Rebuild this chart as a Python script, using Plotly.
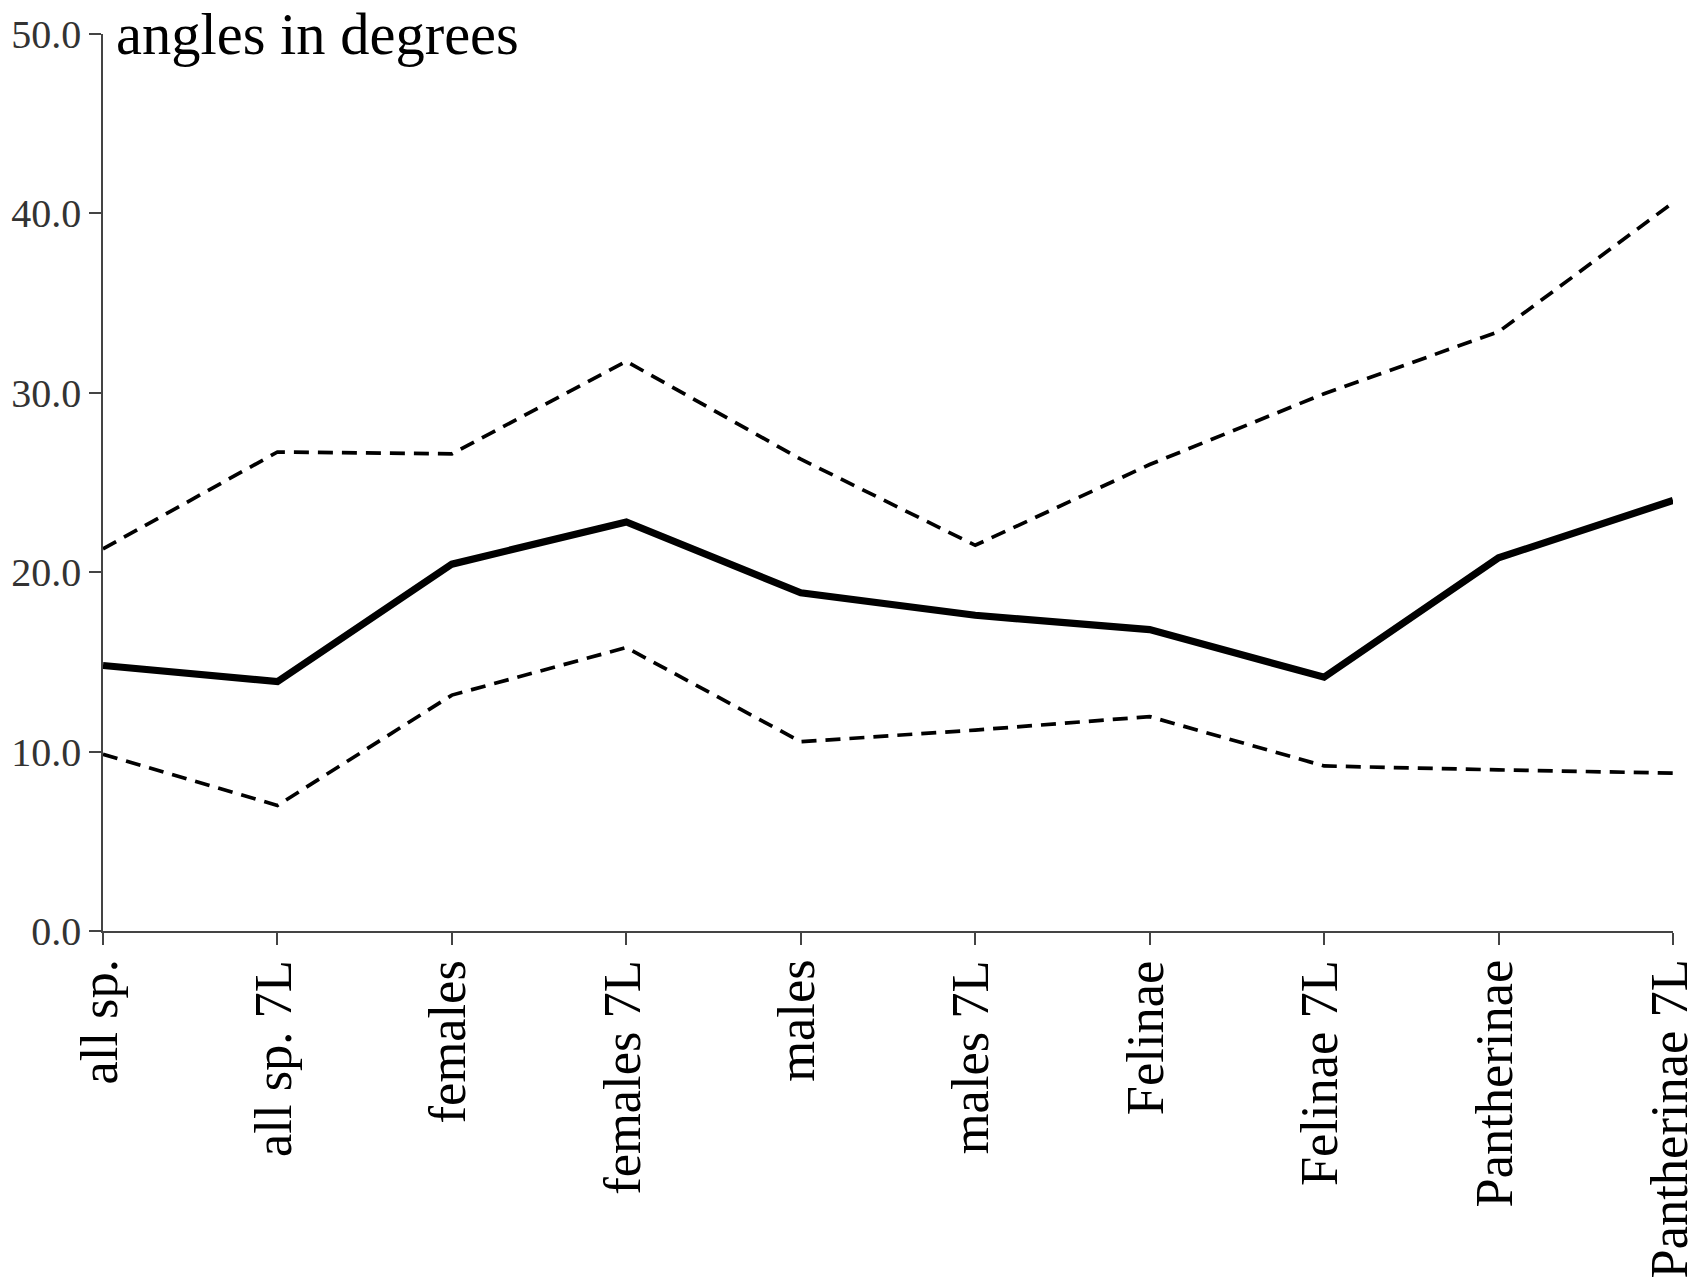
import plotly.graph_objects as go

categories = ["all sp.", "all sp. 7L", "females", "females 7L", "males", "males 7L",
              "Felinae", "Felinae 7L", "Pantherinae", "Pantherinae 7L"]
mean_values = [14.8, 13.9, 20.45, 22.8, 18.85, 17.6, 16.8, 14.15, 20.8, 24.0]
upper_values = [21.3, 26.7, 26.6, 31.75, 26.3, 21.5, 26.0, 29.95, 33.4, 40.6]
lower_values = [9.85, 7.0, 13.15, 15.8, 10.55, 11.2, 11.95, 9.2, 8.98, 8.8]
y_ticks = [0, 10, 20, 30, 40, 50]

FONT = "Liberation Serif"

fig = go.Figure()
fig.add_trace(go.Scatter(x=categories, y=upper_values, mode="lines",
                         line=dict(color="black", width=3.7, dash="15px,9px"),
                         showlegend=False, hoverinfo="skip"))
fig.add_trace(go.Scatter(x=categories, y=lower_values, mode="lines",
                         line=dict(color="black", width=3.7, dash="15px,9px"),
                         showlegend=False, hoverinfo="skip"))
fig.add_trace(go.Scatter(x=categories, y=mean_values, mode="lines",
                         line=dict(color="black", width=7.2),
                         showlegend=False, hoverinfo="skip"))

annotations = [dict(text="angles in degrees", xref="paper", yref="paper",
                    x=(114 - 103) / 1570, y=1.0, xanchor="left", yanchor="middle",
                    showarrow=False, font=dict(family=FONT, size=58.5, color="black"))]
for c in categories:
    annotations.append(dict(text=c, xref="x", yref="paper", x=c, y=0,
                            xanchor="center", yanchor="top", yshift=-28, xshift=-5,
                            textangle=-90, showarrow=False, borderpad=0,
                            font=dict(family=FONT, size=52.5, color="black")))

fig.update_layout(
    width=1696, height=1286,
    margin=dict(l=103, r=23, t=34, b=355, pad=0, autoexpand=False),
    plot_bgcolor="white", paper_bgcolor="white",
    font=dict(family=FONT, color="#222"),
    xaxis=dict(type="category", range=[0, 9], showgrid=False, zeroline=False,
               automargin=False, showticklabels=False,
               showline=True, linecolor="#444", linewidth=1.5,
               ticks="outside", ticklen=12, tickcolor="#444", tickwidth=1.5),
    yaxis=dict(range=[0, 50], tickvals=y_ticks, tickformat=".1f",
               showgrid=False, zeroline=False, automargin=False,
               showline=True, linecolor="#444", linewidth=1.5,
               ticks="outside", ticklen=12, tickcolor="#444", tickwidth=1.5,
               tickfont=dict(family=FONT, size=40, color="#333")),
    annotations=annotations,
)

fig.write_html("out.html", config={"displayModeBar": False},
               post_script="document.body.style.margin='0';")
